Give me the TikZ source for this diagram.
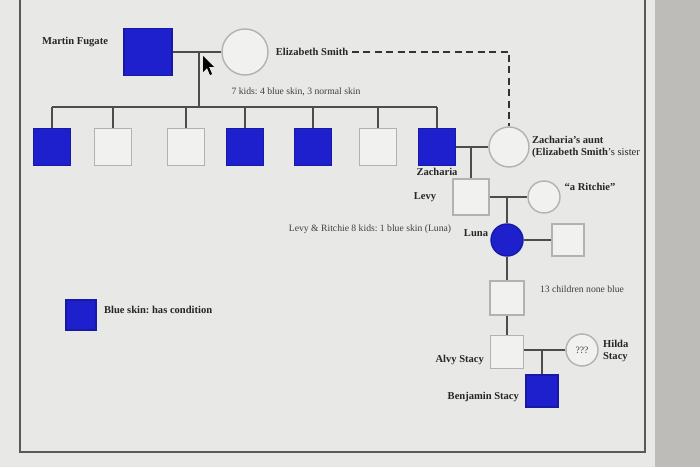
\documentclass[tikz,border=0pt]{standalone}
\usepackage{fontspec}
\setmainfont{Liberation Serif}
\usetikzlibrary{positioning}
\definecolor{pedblue}{RGB}{30,32,205}
\definecolor{screen}{RGB}{232,232,230}
\definecolor{bezel}{RGB}{190,188,184}
\frenchspacing
\begin{document}
\begin{tikzpicture}[
  x=0.2mm, y=-0.2mm,
  male/.style={rectangle, draw=gray!60, thick, fill=screen!60!white, inner sep=0pt},
  female/.style={circle, draw=gray!60, thick, fill=screen!60!white, inner sep=0pt},
  blue/.style={fill=pedblue, draw=pedblue!80!black},
  lbl/.style={font=\bfseries\fontsize{6}{7}\selectfont, text=black!85, inner sep=1pt},
  note/.style={font=\fontsize{5.5}{6.5}\selectfont, text=black!75, inner sep=1pt},
  rel/.style={draw=black!70, line width=0.9pt}
]
  \useasboundingbox (0,0) rectangle (700,467);

  % Bildschirm
  \fill[screen] (0,0) rectangle (700,467);
  \fill[bezel] (655,0) rectangle (700,467);
  \draw[black!65, line width=0.9pt] (20,0) -- (20,452) -- (645,452) -- (645,0);

  % Generation I
  \node[male, blue, minimum width=9.6mm, minimum height=9.4mm] (martin) at (148,52) {};
  \node[female, minimum size=9.2mm] (elizabeth) at (245,52) {};
  \node[lbl] (martinlbl) at (75,42) {Martin Fugate};
  \node[lbl] (elizabethlbl) at (312,52) {Elizabeth Smith};
  \draw[rel] (martin) -- (elizabeth);
  \coordinate (mf) at (199,52);
  \coordinate (sib) at (199,107);
  \draw[rel] (mf) -- (sib);
  \node[note] (kidsnote) at (296,92) {7 kids: 4 blue skin, 3 normal skin};

  % Generation II
  \foreach \name/\xx/\aff in {k1/52/1, k2/113/0, k3/186/0, k4/245/1, k5/313/1, k6/378/0, zacharia/437/1} {
    \ifnum\aff=1
      \node[male, blue, minimum size=7.4mm] (\name) at (\xx,147) {};
    \else
      \node[male, minimum size=7.4mm] (\name) at (\xx,147) {};
    \fi
    \draw[rel] (\name.north) -- (\xx,107);
  }
  \draw[rel] (52,107) -- (437,107);
  \node[lbl, below=0pt of zacharia] (zacharialbl) {Zacharia};

  \node[female, minimum size=8mm] (aunt) at (509,147) {};
  \node[lbl, anchor=west, align=left] (auntlbl) at (530,147)
    {Zacharia's aunt\\(Elizabeth Smith{\mdseries's sister}};
  \draw[rel] (zacharia) -- (aunt);
  \coordinate (dash1) at (352,52);
  \coordinate (dash2) at (509,52);
  \draw[black!80, line width=0.9pt, dash pattern=on 4pt off 2.5pt] (dash1) -- (dash2) -- (aunt.north);

  % Generation III
  \node[male, minimum size=7.2mm] (levy) at (471,197) {};
  \node[lbl, left=8pt of levy] (levylbl) {Levy};
  \draw[rel] (471,147) -- (levy.north);
  \node[female, minimum size=6.4mm] (ritchie) at (544,197) {};
  \node[lbl] (ritchielbl) at (590,187) {``a Ritchie''};
  \draw[rel] (levy) -- (ritchie);

  % Generation IV
  \node[female, blue, minimum size=6.4mm] (luna) at (507,240) {};
  \node[lbl] (lunalbl) at (476,233) {Luna};
  \draw[rel] (507,197) -- (luna.north);
  \node[male, minimum size=6.4mm] (lunaspouse) at (568,240) {};
  \draw[rel] (luna) -- (lunaspouse);
  \node[note] (levynote) at (370,229) {Levy \& Ritchie 8 kids: 1 blue skin (Luna)};

  % Generation V
  \node[male, minimum size=6.8mm] (children) at (507,298) {};
  \node[note] (childrennote) at (582,289) {13 children none blue};
  \draw[rel] (luna) -- (children);

  % Generation VI
  \node[male, minimum size=6.6mm] (alvy) at (507,352) {};
  \node[lbl, anchor=east] (alvylbl) at (486,360) {Alvy Stacy};
  \draw[rel] (children) -- (alvy);
  \node[female, minimum size=6.4mm] (hilda) at (582,350) {};
  \node[note] at (hilda) {???};
  \node[lbl, anchor=west, align=left] (hildalbl) at (601,351) {Hilda\\Stacy};
  \draw[rel] (alvy.east |- hilda) -- (hilda);

  % Generation VII
  \node[male, blue, minimum size=6.4mm] (benjamin) at (542,391) {};
  \node[lbl, anchor=east] (benjaminlbl) at (521,397) {Benjamin Stacy};
  \draw[rel] (542,350) -- (benjamin.north);

  % Legende
  \node[male, blue, minimum size=6mm] (legend) at (81,315) {};
  \node[lbl, right=3pt of legend, yshift=3pt] (legendlbl) {Blue skin: has condition};

  % Mauszeiger
  \fill[black] (203,56) -- (203,72) -- (207,68) -- (210,75) -- (212,74) -- (209,67) -- (214,67) -- cycle;
\end{tikzpicture}
\end{document}
